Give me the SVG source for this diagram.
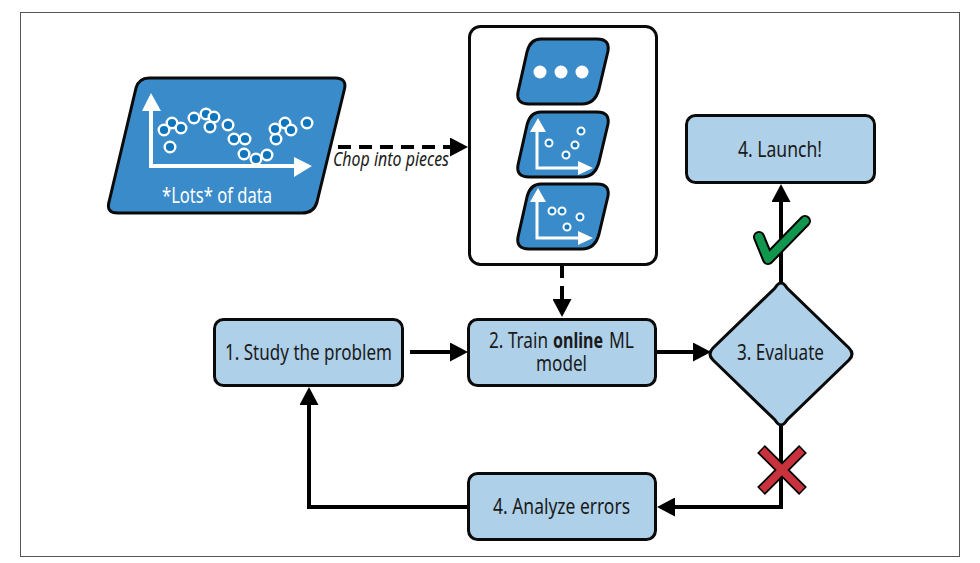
<svg xmlns="http://www.w3.org/2000/svg" width="980" height="563" viewBox="0 0 980 563">
<style>
text{font-family:"Noto Sans","Liberation Sans",sans-serif;font-size:22px;fill:#1a1a1a;text-anchor:start}
.box{fill:#aed0e8;stroke:#0a0a0a;stroke-width:3}
.para{fill:#3a8bc9;stroke:#0a0a0a;stroke-width:3;stroke-linejoin:round}
.conn{fill:none;stroke:#000;stroke-width:4}
.dash{stroke-dasharray:13 8}
.ax{fill:none;stroke:#fff;stroke-width:4}
.ax2{fill:none;stroke:#fff;stroke-width:3}
.axh{fill:#fff}
.pt{fill:#0f75bc;stroke:#fff;stroke-width:2.4}
.pts{fill:#0f75bc;stroke:#fff;stroke-width:2}
.dot{fill:#fff}
</style>
<defs>
<marker id="ah" markerUnits="userSpaceOnUse" markerWidth="19" markerHeight="19" refX="10" refY="9.5" orient="auto"><path d="M0 0L18 9.5L0 19Z" fill="#000"/></marker>
<path id="chip" class="para" d="M23 0H79Q92 0 90 12L81 50Q77 65 64 65H11Q-2 65 0 53L9 13Q12 0 23 0Z"/>
</defs>
<rect x="20.500" y="12.500" width="939" height="544" fill="#fff" stroke="#555" stroke-width="1"/>
<g id="connectors">
<path class="conn dash" d="M338 147H460" marker-end="url(#ah)"/>
<path class="conn dash" d="M562 265V309" marker-end="url(#ah)"/>
<path class="conn" d="M410 352H460" marker-end="url(#ah)"/>
<path class="conn" d="M656 352H703" marker-end="url(#ah)"/>
<path class="conn" d="M781 284V192" marker-end="url(#ah)"/>
<path class="conn" d="M781 426V507H665" marker-end="url(#ah)"/>
<path class="conn" d="M468 507H309V395" marker-end="url(#ah)"/>
</g>
<g id="data">
<path class="para" d="M149 78H335Q348 78 344 91L317 202Q314 213 302 213H118Q106 213 109 202L136 88Q139 78 149 78Z"/>
<path class="ax" d="M151 105V166H300"/>
<path class="axh" d="M151 93L161 111H142Z M312 166L294 157V177Z"/>
<circle class="pt" cx="172" cy="123" r="5.300"/><circle class="pt" cx="164" cy="130" r="5.300"/><circle class="pt" cx="181" cy="128" r="5.300"/><circle class="pt" cx="170" cy="147" r="5.300"/><circle class="pt" cx="194" cy="118" r="5.300"/><circle class="pt" cx="206" cy="114" r="5.300"/><circle class="pt" cx="214" cy="117" r="5.300"/><circle class="pt" cx="210" cy="127" r="5.300"/><circle class="pt" cx="228" cy="125" r="5.300"/><circle class="pt" cx="234" cy="139" r="5.300"/><circle class="pt" cx="245" cy="139" r="5.300"/><circle class="pt" cx="244" cy="154" r="5.300"/><circle class="pt" cx="256" cy="159" r="5.300"/><circle class="pt" cx="267" cy="155" r="5.300"/><circle class="pt" cx="276" cy="139" r="5.300"/><circle class="pt" cx="275" cy="129" r="5.300"/><circle class="pt" cx="285" cy="123" r="5.300"/><circle class="pt" cx="291" cy="130" r="5.300"/><circle class="pt" cx="307" cy="123" r="5.300"/>
<text x="162" y="203" style="fill:#fff" textLength="110" lengthAdjust="spacingAndGlyphs">*Lots* of data</text>
</g>
<text id="chop-label" x="333" y="166" style="font-style:italic;font-size:20px" textLength="116" lengthAdjust="spacingAndGlyphs">Chop into pieces</text>
<g id="pieces">
<rect x="469.500" y="26.500" width="187" height="238" rx="11" fill="#fff" stroke="#0a0a0a" stroke-width="3"/>
<g id="chip1"><use href="#chip" x="518" y="39"/><circle class="dot" cx="540" cy="72" r="6.500"/><circle class="dot" cx="561" cy="72" r="6.500"/><circle class="dot" cx="582" cy="72" r="6.500"/></g>
<g id="chip2"><use href="#chip" x="518" y="112"/><path class="ax2" d="M537 128V168H582"/><path class="axh" d="M538 118L546 132H530Z M593 168L578 161V175Z"/><circle class="pts" cx="581" cy="131" r="3.500"/><circle class="pts" cx="549" cy="143" r="3.500"/><circle class="pts" cx="575" cy="145" r="3.500"/><circle class="pts" cx="566" cy="155" r="3.500"/></g>
<g id="chip3"><use href="#chip" x="518" y="184"/><path class="ax2" d="M537 198V238H582"/><path class="axh" d="M538 188L546 202H530Z M593 238L578 231V245Z"/><circle class="pts" cx="552" cy="211" r="3.500"/><circle class="pts" cx="562" cy="211" r="3.500"/><circle class="pts" cx="580" cy="217" r="3.500"/><circle class="pts" cx="567" cy="227" r="3.500"/></g>
</g>
<g id="launch"><rect class="box" x="686.500" y="115.500" width="188" height="67" rx="9"/><text x="738" y="157" textLength="84" lengthAdjust="spacingAndGlyphs">4. Launch!</text></g>
<g id="study"><rect class="box" x="214.500" y="319.500" width="188" height="66" rx="9"/><text x="225" y="360" textLength="167" lengthAdjust="spacingAndGlyphs">1. Study the problem</text></g>
<g id="train"><rect class="box" x="468.500" y="319.500" width="187" height="66" rx="9"/><text x="489" y="348" textLength="59" lengthAdjust="spacingAndGlyphs">2. Train</text><text x="553" y="348" font-weight="700" textLength="50" lengthAdjust="spacingAndGlyphs">online</text><text x="609" y="348" textLength="25" lengthAdjust="spacingAndGlyphs">ML</text><text x="536" y="371" textLength="51" lengthAdjust="spacingAndGlyphs">model</text></g>
<g id="evaluate"><path class="box" d="M775 288Q781 278 787 288L849 348Q855 354 849 360L787 420Q781 430 775 420L713 360Q707 354 713 348Z"/><text x="737" y="360" textLength="87" lengthAdjust="spacingAndGlyphs">3. Evaluate</text></g>
<g id="analyze"><rect class="box" x="468.500" y="473.500" width="187" height="66" rx="9"/><text x="493" y="514" textLength="137" lengthAdjust="spacingAndGlyphs">4. Analyze errors</text></g>
<g id="check"><path d="M759 237L768 259L805 221" fill="none" stroke="#000" stroke-width="12" stroke-linecap="round" stroke-linejoin="round"/><path d="M759 237L768 259L805 221" fill="none" stroke="#10964d" stroke-width="8" stroke-linecap="round" stroke-linejoin="round"/></g>
<g id="cross"><path d="M761 449L803 491M803 449L761 491" fill="none" stroke="#000" stroke-width="11"/><path d="M762 450L802 490M802 450L762 490" fill="none" stroke="#c8323c" stroke-width="7.500"/></g>
</svg>
